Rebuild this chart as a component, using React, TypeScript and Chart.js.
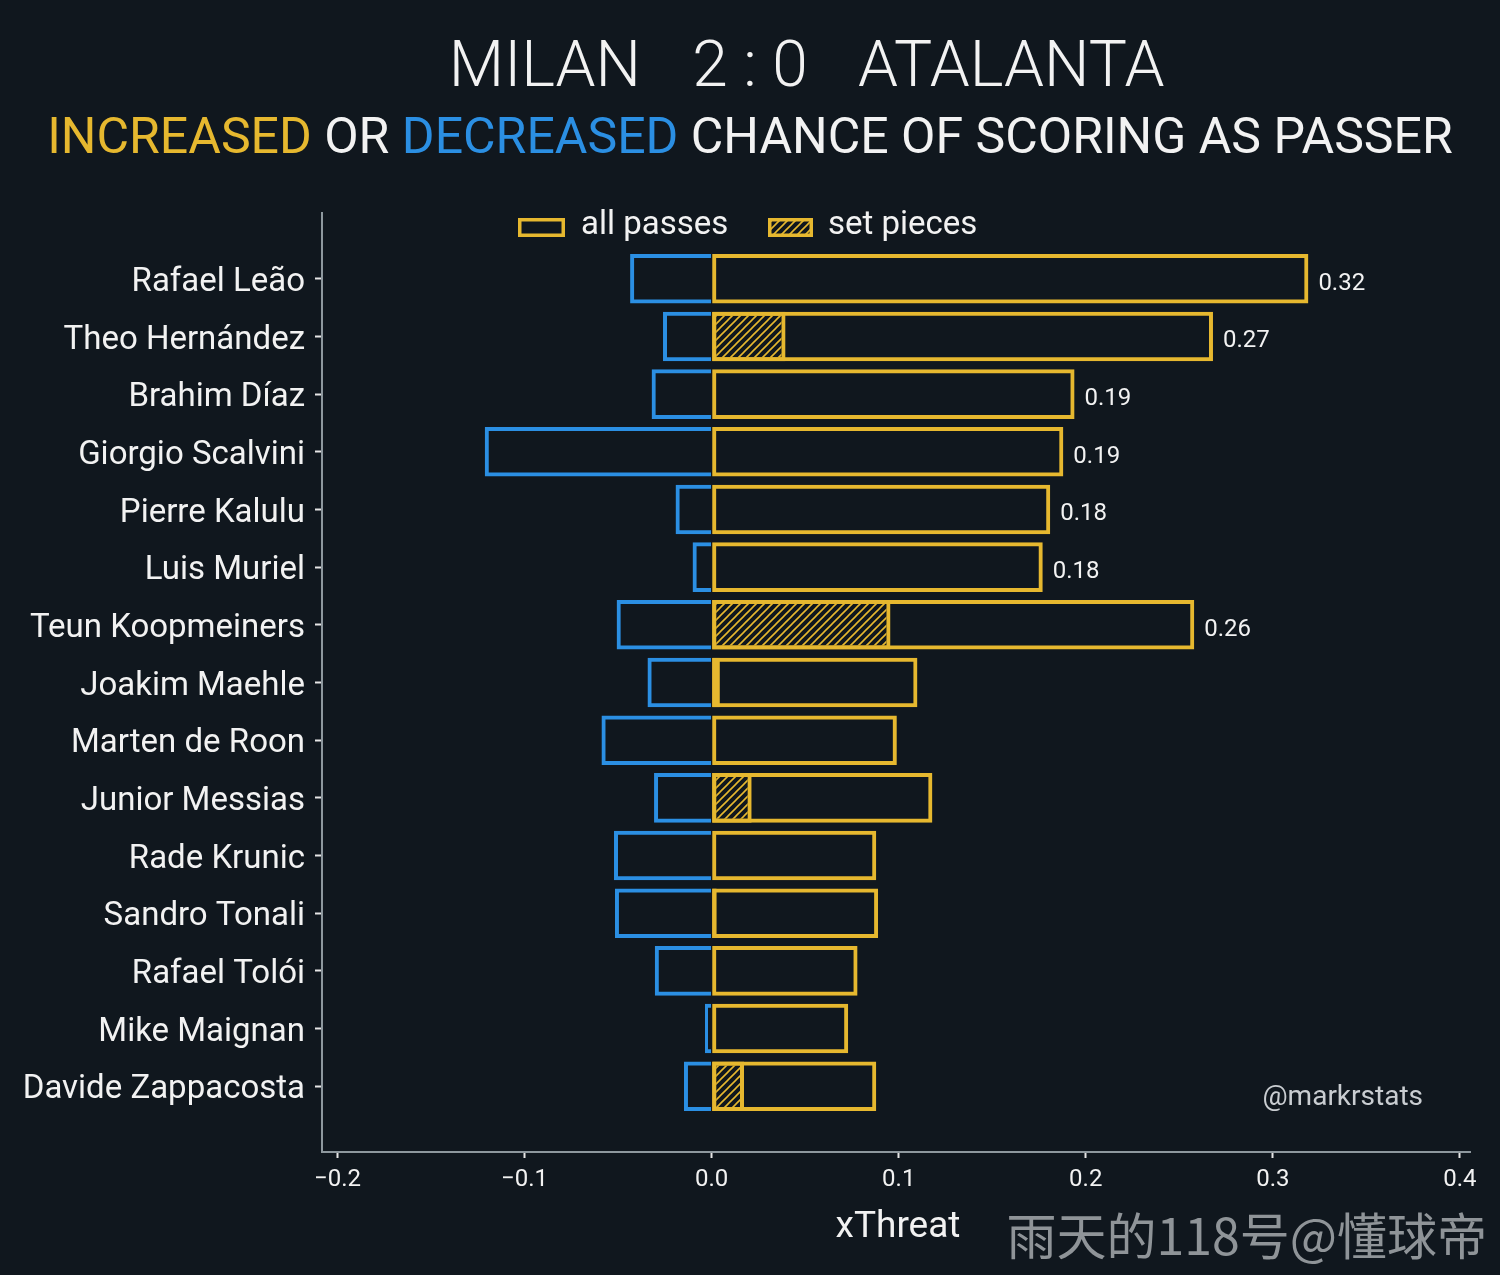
import React, { useEffect, useRef } from "react";
import { Chart, registerables } from "chart.js";

Chart.register(...registerables);

// ---------- data ----------
const players = [
  "Rafael Leão",
  "Theo Hernández",
  "Brahim Díaz",
  "Giorgio Scalvini",
  "Pierre Kalulu",
  "Luis Muriel",
  "Teun Koopmeiners",
  "Joakim Maehle",
  "Marten de Roon",
  "Junior Messias",
  "Rade Krunic",
  "Sandro Tonali",
  "Rafael Tolói",
  "Mike Maignan",
  "Davide Zappacosta",
];
const allPasses = [0.319, 0.268, 0.194, 0.188, 0.181, 0.177, 0.258, 0.110, 0.099, 0.118, 0.088, 0.089, 0.078, 0.073, 0.088];
const setPieces = [0, 0.0395, 0, 0, 0, 0, 0.0956, 0.0044, 0, 0.0214, 0, 0.0027, 0, 0, 0.0173];
const decreased = [-0.0436, -0.026, -0.0321, -0.1213, -0.0193, -0.0102, -0.0508, -0.0343, -0.0589, -0.0308, -0.0522, -0.0517, -0.0304, -0.0036, -0.0148];
const xTickValues = [-0.2, -0.1, 0, 0.1, 0.2, 0.3, 0.4];
const LABEL_MIN = 0.15;

const titleHome = "MILAN";
const titleScore = "2 : 0";
const titleAway = "ATALANTA";
const subtitleParts = [
  { text: "INCREASED", color: "yellow" },
  { text: " OR ", color: "white" },
  { text: "DECREASED", color: "blue" },
  { text: " CHANCE OF SCORING AS PASSER", color: "white" },
];

// ---------- style ----------
const BG = "#10171e";
const YELLOW = "#e6b82f";
const BLUE = "#2b8fe3";
const WHITE = "#f2f2f2";
const SPINE = "#8e989e";
const FONT = "Roboto";

function makeHatch(): CanvasPattern | string {
  const c = document.createElement("canvas");
  c.width = 8;
  c.height = 8;
  const g = c.getContext("2d");
  if (!g) return YELLOW;
  g.strokeStyle = YELLOW;
  g.lineWidth = 1.6;
  g.lineCap = "square";
  g.beginPath();
  g.moveTo(0, 8);
  g.lineTo(8, 0);
  g.moveTo(-4, 4);
  g.lineTo(4, -4);
  g.moveTo(4, 12);
  g.lineTo(12, 4);
  g.stroke();
  const p = g.createPattern(c, "repeat");
  return p || YELLOW;
}

function fmtTick(v: number): string {
  if (Math.abs(v) < 1e-9) return "0.0";
  return (v < 0 ? "\u2212" : "") + Math.abs(v).toFixed(1);
}

export default function App() {
  const ref = useRef<HTMLCanvasElement | null>(null);

  useEffect(() => {
    const canvas = ref.current;
    if (!canvas) return;
    const hatch = makeHatch();
    const colorMap: Record<string, string> = { yellow: YELLOW, blue: BLUE, white: WHITE };

    const decor = {
      id: "decor",
      afterDraw(chart: any) {
        const ctx = chart.ctx as CanvasRenderingContext2D;
        ctx.save();
        // Title
        ctx.fillStyle = WHITE;
        ctx.textBaseline = "alphabetic";
        ctx.font = `300 64px ${FONT}`;
        ctx.textAlign = "center";
        ctx.fillText(titleScore, 750, 86);
        ctx.textAlign = "right";
        ctx.fillText(titleHome, 641, 86);
        ctx.textAlign = "left";
        ctx.fillText(titleAway, 858, 86);

        // Subtitle (multi-coloured)
        ctx.font = `400 50px ${FONT}`;
        const total = subtitleParts.reduce((s, p) => s + ctx.measureText(p.text).width, 0);
        let x = 750 - total / 2;
        ctx.textAlign = "left";
        for (const p of subtitleParts) {
          ctx.fillStyle = colorMap[p.color];
          ctx.fillText(p.text, x, 153);
          x += ctx.measureText(p.text).width;
        }

        // Legend
        ctx.lineWidth = 3.5;
        ctx.strokeStyle = YELLOW;
        ctx.strokeRect(519.75, 219.75, 43.5, 15.5);
        ctx.fillStyle = hatch as any;
        ctx.fillRect(769.75, 219.75, 41.5, 15.5);
        ctx.strokeRect(769.75, 219.75, 41.5, 15.5);
        ctx.fillStyle = WHITE;
        ctx.font = `400 33px ${FONT}`;
        ctx.fillText("all passes", 581, 234);
        ctx.fillText("set pieces", 828, 234);

        // Value labels
        const meta = chart.getDatasetMeta(0);
        ctx.font = `400 24px ${FONT}`;
        ctx.fillStyle = WHITE;
        ctx.textAlign = "left";
        allPasses.forEach((v, i) => {
          if (v < LABEL_MIN) return;
          const el = meta.data[i];
          ctx.fillText(v.toFixed(2), el.x + 10, el.y + 11);
        });

        // x axis label
        const area = chart.chartArea;
        ctx.font = `400 37px ${FONT}`;
        ctx.textAlign = "center";
        ctx.fillText("xThreat", (area.left + area.right) / 2 + 2, 1237);

        // credits
        ctx.font = `400 28px ${FONT}`;
        ctx.fillStyle = "#c9cdd1";
        ctx.textAlign = "right";
        ctx.fillText("@markrstats", 1423, 1105);

        ctx.font = `400 50px "Noto Sans CJK SC"`;
        ctx.fillStyle = "#8f9498";
        ctx.fillText("雨天的118号@懂球帝", 1487, 1255);
        ctx.restore();
      },
    };

    const common = {
      grouped: false,
      categoryPercentage: 1,
      barPercentage: 0.86,
      borderWidth: 4,
    };

    const chart = new Chart(canvas, {
      type: "bar",
      data: {
        datasets: [
          {
            ...common,
            label: "all passes",
            data: allPasses.map((v, i) => ({ x: v, y: i })),
            backgroundColor: "rgba(0,0,0,0)",
            borderColor: YELLOW,
            borderSkipped: false,
          },
          {
            ...common,
            label: "set pieces",
            data: setPieces.map((v, i) => ({ x: v, y: i })),
            backgroundColor: hatch as any,
            borderColor: YELLOW,
            borderSkipped: false,
          },
          {
            ...common,
            label: "decreased",
            data: decreased.map((v, i) => ({ x: v, y: i })),
            backgroundColor: "rgba(0,0,0,0)",
            borderColor: BLUE,
            borderSkipped: "start",
          },
        ] as any,
      },
      options: {
        animation: false,
        responsive: false,
        devicePixelRatio: 1,
        indexAxis: "y",
        layout: { padding: { top: 213, right: 30, left: 0, bottom: 0 } },
        plugins: {
          legend: { display: false },
          title: { display: false },
          tooltip: { enabled: false },
        },
        scales: {
          x: {
            type: "linear",
            min: -0.2083,
            max: 0.4054,
            offset: false,
            afterFit: (s: any) => {
              s.height = 123;
            },
            afterBuildTicks: (s: any) => {
              s.ticks = xTickValues.map((v) => ({ value: v }));
            },
            ticks: {
              color: WHITE,
              font: { family: FONT, size: 24 },
              padding: 8,
              autoSkip: false,
              maxRotation: 0,
              callback: (v: any) => fmtTick(Number(v)),
            },
            grid: {
              offset: false,
              drawOnChartArea: false,
              drawTicks: true,
              tickLength: 6,
              tickColor: "#e6e6e6",
              tickWidth: 2,
              color: "rgba(0,0,0,0)",
            },
            border: { display: true, color: SPINE, width: 2 },
          },
          y: {
            type: "linear",
            reverse: true,
            min: -1.14,
            max: 15.14,
            offset: false,
            afterFit: (s: any) => {
              s.width = 322;
            },
            afterBuildTicks: (s: any) => {
              s.ticks = players.map((_, i) => ({ value: i }));
            },
            ticks: {
              color: WHITE,
              font: { family: FONT, size: 33 },
              padding: 10,
              labelOffset: 4,
              autoSkip: false,
              callback: (v: any) => players[Number(v)] ?? "",
            },
            grid: {
              offset: false,
              drawOnChartArea: false,
              drawTicks: true,
              tickLength: 7,
              tickColor: "#e6e6e6",
              tickWidth: 2,
              color: "rgba(0,0,0,0)",
            },
            border: { display: true, color: SPINE, width: 2 },
          },
        },
      } as any,
      plugins: [decor],
    });

    return () => chart.destroy();
  }, []);

  return (
    <div
      style={{
        position: "absolute",
        left: 0,
        top: 0,
        width: 1500,
        height: 1275,
        background: BG,
        overflow: "hidden",
      }}
    >
      <canvas ref={ref} width={1500} height={1275} style={{ display: "block", width: 1500, height: 1275 }} />
    </div>
  );
}
